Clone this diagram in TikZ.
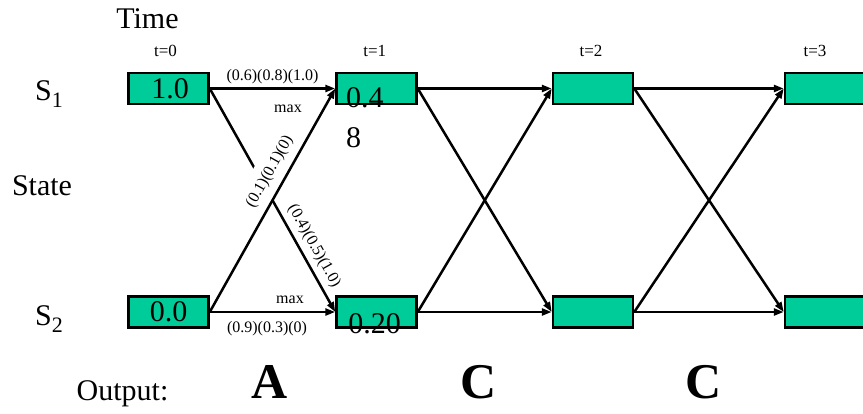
\documentclass[tikz,border=0pt]{standalone}
\usepackage{fontspec}
\setmainfont{Liberation Serif}
\usetikzlibrary{arrows.meta, calc}

\definecolor{stategreen}{RGB}{0,204,153}

\begin{document}
\begin{tikzpicture}[x=1pt, y=-1pt,
    myarrow/.style={-{Triangle[length=10pt, width=7pt]}, line width=2.5pt},
    statebox/.style={draw, line width=2.5pt, fill=stategreen,
                     minimum width=80pt, minimum height=31pt, inner sep=0pt},
    numtext/.style={font=\fontsize{30}{40}\selectfont, inner sep=0pt},
    sidelabel/.style={font=\fontsize{30}{36}\selectfont, inner sep=0pt, anchor=base},
    timelabel/.style={font=\fontsize{17}{20}\selectfont, inner sep=0pt, anchor=base},
    arclabel/.style={font=\fontsize{16}{19}\selectfont},
    outletter/.style={font=\fontsize{50}{60}\selectfont\bfseries, inner sep=0pt, anchor=base},
]
\useasboundingbox (0,0) rectangle (863,413);

% ===================== AXIS LABELS =====================
\node[sidelabel] (time) at (147.5, 28) {Time};
\node[sidelabel] (state) at (42, 195) {State};
\node[sidelabel] (output) at (122.5, 400) {Output:};
\node[sidelabel, anchor=base west] (s1) at (35, 100)
    {S\raisebox{-7pt}{\fontsize{22}{22}\selectfont 1}};
\node[sidelabel, anchor=base west] (s2) at (35, 325)
    {S\raisebox{-7pt}{\fontsize{22}{22}\selectfont 2}};

% ===================== STATE BOXES =====================
\foreach \t/\x/\tx in {0/168.5/165.5, 1/376.5/374.7, 2/593/591, 3/825/815} {
    \node[statebox] (s1t\t) at (\x, 88.5) {};
    \node[statebox] (s2t\t) at (\x, 312) {};
    \node[timelabel] (tl\t) at (\tx, 56) {t=\t};
}

% ===================== FIRST STEP =====================
\draw[myarrow] (s1t0.east) -- (s1t1.west)
    node[midway, above, arclabel] (lbl11) {(0.6)(0.8)(1.0)};
\draw[myarrow] (s2t0.east) -- (s2t1.west);

% S1 -> S2, partly hidden behind the label of S2 -> S1
\draw[myarrow] (s1t0.east) -- (s2t1.west)
    node[pos=0.735, sloped, above=2pt, arclabel] (lbl12) {(0.4)(0.5)(1.0)};
\path (s2t0.east) -- (s1t1.west)
    node[pos=0.592, sloped, anchor=south, fill=white, inner sep=0pt,
         minimum height=32pt, arclabel] (lbl21) {(0.1)(0.1)(0)};
\draw[myarrow] (s2t0.east) -- (s1t1.west);

\node[arclabel, anchor=base, inner sep=0pt] (max1) at (288, 112) {max};
\node[arclabel, anchor=base, inner sep=0pt] (max2) at (290, 303) {max};
\node[arclabel, anchor=base, inner sep=0pt] (lbl22) at (267, 332) {(0.9)(0.3)(0)};

% ===================== LATER STEPS =====================
\foreach \a/\b in {1/2, 2/3} {
    \draw[myarrow] (s1t\a.east) -- (s1t\b.west);
    \draw[myarrow] (s1t\a.east) -- (s2t\b.west);
    \draw[myarrow] (s2t\a.east) -- (s1t\b.west);
    \draw[myarrow] (s2t\a.east) -- (s2t\b.west);
}

% ===================== VALUES =====================
\node[numtext] at ($(s1t0.center) + (1.5, 0)$) {1.0};
\node[numtext] at (s2t0.center) {0.0};
\node[numtext, align=left, anchor=north west] (v1) at (346, 87) {0.4\\8};
\node[numtext, anchor=base] (v2) at (374.5, 333) {0.20};

% ===================== OUTPUT SYMBOLS =====================
\node[outletter] (o1) at (270, 398) {A};
\node[outletter] (o2) at (478.5, 398) {C};
\node[outletter] (o3) at (703.5, 398) {C};

\end{tikzpicture}
\end{document}
